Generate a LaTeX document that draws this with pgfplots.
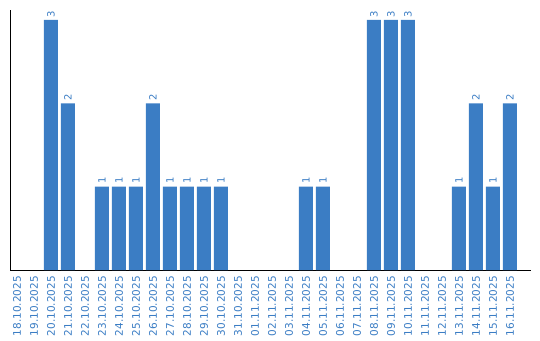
\documentclass[border=0pt]{standalone}
\usepackage{fontspec}
\setmainfont{DejaVu Sans}
\usepackage{pgfplots}
\pgfplotsset{compat=1.18}
\definecolor{barblue}{RGB}{59,125,196}
\begin{document}
\begin{tikzpicture}[x=1pt,y=1pt]
\begin{axis}[
  scale only axis,
  width=521pt, height=260pt,
  xmin=-0.41, xmax=30.24,
  ymin=0, ymax=3.12,
  axis x line*=bottom, axis y line*=left,
  axis line style={black, line width=0.9pt},
  ytick=\empty,
  xtick={0,...,29},
  major tick length=0pt,
  xticklabels={18.10.2025,19.10.2025,20.10.2025,21.10.2025,22.10.2025,23.10.2025,24.10.2025,25.10.2025,26.10.2025,27.10.2025,28.10.2025,29.10.2025,30.10.2025,31.10.2025,01.11.2025,02.11.2025,03.11.2025,04.11.2025,05.11.2025,06.11.2025,07.11.2025,08.11.2025,09.11.2025,10.11.2025,11.11.2025,12.11.2025,13.11.2025,14.11.2025,15.11.2025,16.11.2025},
  xticklabel style={rotate=90, anchor=east, font=\fontsize{10.5}{12}\selectfont, text=barblue, inner sep=0pt},
  every tick label/.append style={yshift=-6pt},
  clip=false,
]
\addplot[ybar, bar width=14pt, fill=barblue, draw=none,
  nodes near coords,
  nodes near coords style={rotate=90, anchor=west, font=\fontsize{10}{11}\selectfont, text=barblue, inner sep=0pt, xshift=2.5pt, /pgf/number format/assume math mode=true},
] coordinates {
(2,3) (3,2) (5,1) (6,1) (7,1) (8,2) (9,1)
(10,1) (11,1) (12,1) (17,1) (18,1)
(21,3) (22,3) (23,3) (26,1) (27,2) (28,1) (29,2)
};
\coordinate (sw) at (rel axis cs:0,0);
\coordinate (ne) at (rel axis cs:1,1);
\end{axis}
\pgfresetboundingbox
\path ([shift={(-10pt,-70pt)}]sw) rectangle ([shift={(9pt,10pt)}]ne);
\end{tikzpicture}
\end{document}
